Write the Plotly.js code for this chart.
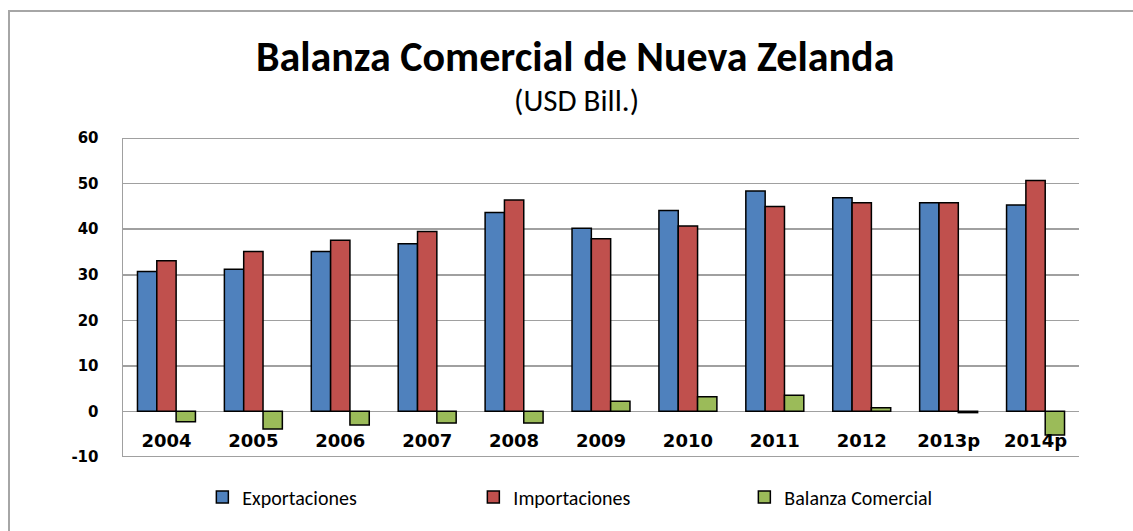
<!DOCTYPE html>
<html>
<head>
<meta charset="utf-8">
<script src="https://cdn.plot.ly/plotly-3.0.1.min.js"></script>
<style>
  html, body { margin: 0; padding: 0; background: #ffffff; }
  #wrap { position: relative; width: 1133px; height: 531px; overflow: hidden; }
  #chart { position: absolute; left: 0; top: 0; width: 1133px; height: 531px; }
  #frame { position: absolute; left: 8px; top: 10px; width: 1140px; height: 540px;
           border-left: 2px solid #a6a6a6; border-top: 2px solid #a6a6a6; pointer-events: none; }
</style>
</head>
<body>
<div id="wrap">
  <div id="chart"></div>
  <div id="frame"></div>
</div>
<script>
const years = ["2004", "2005", "2006", "2007", "2008", "2009", "2010", "2011", "2012", "2013p", "2014p"];
const exportaciones = [30.7, 31.2, 35.1, 36.8, 43.7, 40.2, 44.1, 48.4, 46.9, 45.8, 45.3];
const importaciones = [33.1, 35.1, 37.6, 39.5, 46.4, 37.9, 40.7, 45.0, 45.8, 45.8, 50.7];
const balanza = [-2.3, -3.9, -3.0, -2.6, -2.6, 2.2, 3.2, 3.5, 0.8, -0.3, -5.2];
const yTicks = [-10, 0, 10, 20, 30, 40, 50, 60];

const outline = { color: "#000000", width: 1.5 };
const traces = [
  { type: "bar", name: "Exportaciones", x: years, y: exportaciones,
    marker: { color: "#4F81BD", line: outline } },
  { type: "bar", name: "Importaciones", x: years, y: importaciones,
    marker: { color: "#C0504D", line: outline } },
  { type: "bar", name: "Balanza Comercial", x: years, y: balanza,
    marker: { color: "#9BBB59", line: outline } }
];

const yMin = yTicks[0], yMax = yTicks[yTicks.length - 1];
const pad = 0.05;
const gridColor = "#a0a0a0";
const edgeGrid = [yMin, yMax].map(v => ({
  type: "line", xref: "paper", yref: "y", x0: 0, x1: 1, y0: v, y1: v,
  line: { color: gridColor, width: 1.5 }, layer: "below"
}));

const layout = {
  width: 1133, height: 531,
  paper_bgcolor: "rgba(0,0,0,0)", plot_bgcolor: "#ffffff",
  margin: { l: 123, r: 54, t: 138, b: 74 },
  barmode: "group", bargap: 0.333, bargroupgap: 0,
  showlegend: true,
  hovermode: false,
  shapes: edgeGrid,
  title: {
    text: "Balanza Comercial de Nueva Zelanda",
    font: { family: "Carlito, 'Open Sans', 'Noto Sans', sans-serif", size: 42, color: "#000000", weight: 700 },
    x: 0.473, xanchor: "center", xref: "paper",
    y: 1 - 56 / 531, yanchor: "middle", yref: "container"
  },
  annotations: [{
    text: "(USD Bill.)", showarrow: false,
    xref: "paper", yref: "paper", x: 0.474, xanchor: "center",
    y: 1 + (138 - 100) / 319, yanchor: "middle",
    font: { family: "Carlito, 'Open Sans', 'Noto Sans', sans-serif", size: 31, color: "#000000" }
  }],
  xaxis: {
    type: "category",
    anchor: "free", position: (0 - (yMin - pad)) / ((yMax + pad) - (yMin - pad)),
    showline: false, showgrid: false, zeroline: false,
    ticks: "", ticklabelstandoff: 17,
    tickfont: { family: "'DejaVu Sans', Verdana, sans-serif", size: 18, color: "#000000", weight: 700 },
    fixedrange: true
  },
  yaxis: {
    range: [yMin - pad, yMax + pad],
    tickvals: yTicks, ticktext: yTicks.map(String),
    showgrid: true, gridcolor: gridColor, gridwidth: 1.5,
    zeroline: true, zerolinecolor: gridColor, zerolinewidth: 1.5,
    showline: true, linecolor: gridColor, linewidth: 1.5,
    ticks: "", ticklabelstandoff: 20,
    tickfont: { family: "'DejaVu Sans', Verdana, sans-serif", size: 15, color: "#000000", weight: 700 },
    fixedrange: true
  },
  legend: {
    orientation: "h", x: 0.083, xanchor: "left", y: -0.125, yanchor: "middle",
    entrywidth: 226, entrywidthmode: "pixels",
    itemwidth: 30,
    font: { family: "Carlito, 'Open Sans', 'Noto Sans', sans-serif", size: 20, color: "#000000" },
    bgcolor: "rgba(0,0,0,0)"
  }
};

Plotly.newPlot("chart", traces, layout, { displayModeBar: false, staticPlot: true });
</script>
</body>
</html>
